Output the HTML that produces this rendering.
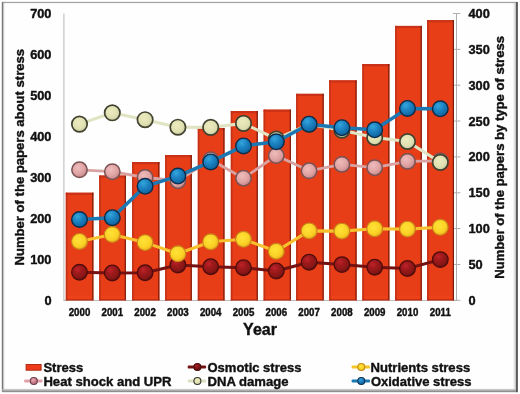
<!DOCTYPE html>
<html><head><meta charset="utf-8"><title>chart</title>
<style>
html,body{margin:0;padding:0;background:#fff;}
body{width:520px;height:394px;overflow:hidden;}
svg{display:block;will-change:transform;}
text{font-family:"Liberation Sans",sans-serif;font-weight:bold;fill:#111;stroke:#111;stroke-width:0.4px;stroke-linejoin:round;}
</style></head><body>
<svg width="520" height="394" viewBox="0 0 520 394">
<defs>
<linearGradient id="shR" x1="0" x2="1" y1="0" y2="0"><stop offset="0" stop-color="#fff" stop-opacity="0"/><stop offset="1" stop-color="#999" stop-opacity="0.7"/></linearGradient>
<linearGradient id="shB" x1="0" x2="0" y1="0" y2="1"><stop offset="0" stop-color="#fff" stop-opacity="0"/><stop offset="1" stop-color="#aaa" stop-opacity="0.6"/></linearGradient>
<linearGradient id="shL" x1="1" x2="0" y1="0" y2="0"><stop offset="0" stop-color="#fff" stop-opacity="0"/><stop offset="1" stop-color="#aaa" stop-opacity="0.6"/></linearGradient>
<radialGradient id="gOs" cx="0.38" cy="0.32" r="0.7"><stop offset="0" stop-color="#c0222a"/><stop offset="0.35" stop-color="#a01a1c"/><stop offset="0.75" stop-color="#8a1616"/><stop offset="1" stop-color="#641010"/></radialGradient>
<radialGradient id="gNu" cx="0.42" cy="0.4" r="0.68"><stop offset="0" stop-color="#ffe236"/><stop offset="0.6" stop-color="#fbd226"/><stop offset="0.85" stop-color="#efb61e"/><stop offset="1" stop-color="#d89a18"/></radialGradient>
<radialGradient id="gHs" cx="0.4" cy="0.35" r="0.7"><stop offset="0" stop-color="#efbcbc"/><stop offset="0.6" stop-color="#dfa2a2"/><stop offset="1" stop-color="#c08486"/></radialGradient>
<radialGradient id="gHsL" cx="0.4" cy="0.35" r="0.7"><stop offset="0" stop-color="#eab0b8"/><stop offset="0.6" stop-color="#c87888"/><stop offset="1" stop-color="#a86070"/></radialGradient>
<radialGradient id="gOsL" cx="0.38" cy="0.32" r="0.7"><stop offset="0" stop-color="#b02026"/><stop offset="0.4" stop-color="#8a1618"/><stop offset="1" stop-color="#5e0e0e"/></radialGradient>
<radialGradient id="gDn" cx="0.42" cy="0.38" r="0.7"><stop offset="0" stop-color="#ecebbd"/><stop offset="0.6" stop-color="#dfe0b2"/><stop offset="1" stop-color="#c4c69a"/></radialGradient>
<radialGradient id="gOx" cx="0.38" cy="0.3" r="0.75"><stop offset="0" stop-color="#34a6dc"/><stop offset="0.45" stop-color="#1c82c2"/><stop offset="1" stop-color="#0f5f98"/></radialGradient>
<linearGradient id="gBar" x1="0" x2="1" y1="0" y2="0"><stop offset="0" stop-color="#c03016"/><stop offset="0.05" stop-color="#c83418"/><stop offset="0.09" stop-color="#e84018"/><stop offset="0.94" stop-color="#e84018"/><stop offset="0.955" stop-color="#9c240e"/><stop offset="1" stop-color="#94200c"/></linearGradient>
</defs>
<rect x="0" y="0" width="520" height="394" fill="#fff"/>
<!-- frame -->
<rect x="2" y="2" width="516" height="390" fill="#fefefe"/>
<rect x="512" y="2" width="4" height="389" fill="url(#shR)"/>
<rect x="2" y="387.8" width="515" height="2" fill="url(#shB)"/>
<rect x="3.1" y="3" width="2.8" height="387" fill="url(#shL)"/>
<rect x="2" y="1.8" width="515" height="1.3" fill="#a4a4a4"/>
<rect x="1.8" y="2" width="1.4" height="389.5" fill="#767676"/>
<rect x="2" y="389.3" width="515" height="1.2" fill="#bcbcbc"/><rect x="2" y="390.4" width="515" height="1.8" fill="#8e8e8e"/>
<rect x="516" y="2" width="1.9" height="390.2" fill="#5a5a5a"/>

<rect x="63.4" y="13.5" width="1" height="286.8" fill="#b8b8b8"/>
<rect x="63.4" y="300.0" width="393.5" height="1" fill="#bcbcbc"/>
<rect x="456" y="13.5" width="0.9" height="286.8" fill="#a4a4a4"/>
<rect x="452.8" y="299.80" width="7.6" height="1" fill="#b0b0b0"/>
<rect x="452.8" y="263.95" width="7.6" height="1" fill="#b0b0b0"/>
<rect x="452.8" y="228.10" width="7.6" height="1" fill="#b0b0b0"/>
<rect x="452.8" y="192.25" width="7.6" height="1" fill="#b0b0b0"/>
<rect x="452.8" y="156.40" width="7.6" height="1" fill="#b0b0b0"/>
<rect x="452.8" y="120.55" width="7.6" height="1" fill="#b0b0b0"/>
<rect x="452.8" y="84.70" width="7.6" height="1" fill="#b0b0b0"/>
<rect x="452.8" y="48.85" width="7.6" height="1" fill="#b0b0b0"/>
<rect x="452.8" y="13.00" width="7.6" height="1" fill="#b0b0b0"/>
<rect x="65.80" y="192.70" width="27.60" height="107.60" fill="#e73e18"/>
<rect x="65.80" y="192.70" width="27.60" height="2.2" fill="#c42f16" opacity="0.85"/>
<rect x="65.80" y="192.70" width="1.6" height="107.60" fill="#c03016" opacity="0.9"/>
<rect x="92.20" y="192.70" width="1.2" height="107.60" fill="#7e1c0c"/>
<rect x="65.80" y="299.40" width="27.60" height="1" fill="#a8280f" opacity="0.9"/>
<rect x="67.80" y="295.30" width="24.10" height="3.5" fill="#ff4a20" opacity="0.3"/>
<rect x="99.20" y="175.50" width="26.70" height="124.80" fill="#e73e18"/>
<rect x="99.20" y="175.50" width="26.70" height="2.2" fill="#c42f16" opacity="0.85"/>
<rect x="99.20" y="175.50" width="1.6" height="124.80" fill="#c03016" opacity="0.9"/>
<rect x="124.70" y="175.50" width="1.2" height="124.80" fill="#7e1c0c"/>
<rect x="99.20" y="299.40" width="26.70" height="1" fill="#a8280f" opacity="0.9"/>
<rect x="101.20" y="295.30" width="23.20" height="3.5" fill="#ff4a20" opacity="0.3"/>
<rect x="132.10" y="162.00" width="27.30" height="138.30" fill="#e73e18"/>
<rect x="132.10" y="162.00" width="27.30" height="2.2" fill="#c42f16" opacity="0.85"/>
<rect x="132.10" y="162.00" width="1.6" height="138.30" fill="#c03016" opacity="0.9"/>
<rect x="158.20" y="162.00" width="1.2" height="138.30" fill="#7e1c0c"/>
<rect x="132.10" y="299.40" width="27.30" height="1" fill="#a8280f" opacity="0.9"/>
<rect x="134.10" y="295.30" width="23.80" height="3.5" fill="#ff4a20" opacity="0.3"/>
<rect x="165.10" y="155.00" width="26.70" height="145.30" fill="#e73e18"/>
<rect x="165.10" y="155.00" width="26.70" height="2.2" fill="#c42f16" opacity="0.85"/>
<rect x="165.10" y="155.00" width="1.6" height="145.30" fill="#c03016" opacity="0.9"/>
<rect x="190.60" y="155.00" width="1.2" height="145.30" fill="#7e1c0c"/>
<rect x="165.10" y="299.40" width="26.70" height="1" fill="#a8280f" opacity="0.9"/>
<rect x="167.10" y="295.30" width="23.20" height="3.5" fill="#ff4a20" opacity="0.3"/>
<rect x="197.80" y="128.00" width="26.70" height="172.30" fill="#e73e18"/>
<rect x="197.80" y="128.00" width="26.70" height="2.2" fill="#c42f16" opacity="0.85"/>
<rect x="197.80" y="128.00" width="1.6" height="172.30" fill="#c03016" opacity="0.9"/>
<rect x="223.30" y="128.00" width="1.2" height="172.30" fill="#7e1c0c"/>
<rect x="197.80" y="299.40" width="26.70" height="1" fill="#a8280f" opacity="0.9"/>
<rect x="199.80" y="295.30" width="23.20" height="3.5" fill="#ff4a20" opacity="0.3"/>
<rect x="230.80" y="111.00" width="27.00" height="189.30" fill="#e73e18"/>
<rect x="230.80" y="111.00" width="27.00" height="2.2" fill="#c42f16" opacity="0.85"/>
<rect x="230.80" y="111.00" width="1.6" height="189.30" fill="#c03016" opacity="0.9"/>
<rect x="256.60" y="111.00" width="1.2" height="189.30" fill="#7e1c0c"/>
<rect x="230.80" y="299.40" width="27.00" height="1" fill="#a8280f" opacity="0.9"/>
<rect x="232.80" y="295.30" width="23.50" height="3.5" fill="#ff4a20" opacity="0.3"/>
<rect x="263.60" y="109.60" width="27.30" height="190.70" fill="#e73e18"/>
<rect x="263.60" y="109.60" width="27.30" height="2.2" fill="#c42f16" opacity="0.85"/>
<rect x="263.60" y="109.60" width="1.6" height="190.70" fill="#c03016" opacity="0.9"/>
<rect x="289.70" y="109.60" width="1.2" height="190.70" fill="#7e1c0c"/>
<rect x="263.60" y="299.40" width="27.30" height="1" fill="#a8280f" opacity="0.9"/>
<rect x="265.60" y="295.30" width="23.80" height="3.5" fill="#ff4a20" opacity="0.3"/>
<rect x="296.10" y="93.80" width="27.60" height="206.50" fill="#e73e18"/>
<rect x="296.10" y="93.80" width="27.60" height="2.2" fill="#c42f16" opacity="0.85"/>
<rect x="296.10" y="93.80" width="1.6" height="206.50" fill="#c03016" opacity="0.9"/>
<rect x="322.50" y="93.80" width="1.2" height="206.50" fill="#7e1c0c"/>
<rect x="296.10" y="299.40" width="27.60" height="1" fill="#a8280f" opacity="0.9"/>
<rect x="298.10" y="295.30" width="24.10" height="3.5" fill="#ff4a20" opacity="0.3"/>
<rect x="329.20" y="80.30" width="27.40" height="220.00" fill="#e73e18"/>
<rect x="329.20" y="80.30" width="27.40" height="2.2" fill="#c42f16" opacity="0.85"/>
<rect x="329.20" y="80.30" width="1.6" height="220.00" fill="#c03016" opacity="0.9"/>
<rect x="355.40" y="80.30" width="1.2" height="220.00" fill="#7e1c0c"/>
<rect x="329.20" y="299.40" width="27.40" height="1" fill="#a8280f" opacity="0.9"/>
<rect x="331.20" y="295.30" width="23.90" height="3.5" fill="#ff4a20" opacity="0.3"/>
<rect x="362.30" y="64.00" width="27.10" height="236.30" fill="#e73e18"/>
<rect x="362.30" y="64.00" width="27.10" height="2.2" fill="#c42f16" opacity="0.85"/>
<rect x="362.30" y="64.00" width="1.6" height="236.30" fill="#c03016" opacity="0.9"/>
<rect x="388.20" y="64.00" width="1.2" height="236.30" fill="#7e1c0c"/>
<rect x="362.30" y="299.40" width="27.10" height="1" fill="#a8280f" opacity="0.9"/>
<rect x="364.30" y="295.30" width="23.60" height="3.5" fill="#ff4a20" opacity="0.3"/>
<rect x="395.10" y="25.90" width="26.70" height="274.40" fill="#e73e18"/>
<rect x="395.10" y="25.90" width="26.70" height="2.2" fill="#c42f16" opacity="0.85"/>
<rect x="395.10" y="25.90" width="1.6" height="274.40" fill="#c03016" opacity="0.9"/>
<rect x="420.60" y="25.90" width="1.2" height="274.40" fill="#7e1c0c"/>
<rect x="395.10" y="299.40" width="26.70" height="1" fill="#a8280f" opacity="0.9"/>
<rect x="397.10" y="295.30" width="23.20" height="3.5" fill="#ff4a20" opacity="0.3"/>
<rect x="427.10" y="20.10" width="26.90" height="280.20" fill="#e73e18"/>
<rect x="427.10" y="20.10" width="26.90" height="2.2" fill="#c42f16" opacity="0.85"/>
<rect x="427.10" y="20.10" width="1.6" height="280.20" fill="#c03016" opacity="0.9"/>
<rect x="452.80" y="20.10" width="1.2" height="280.20" fill="#7e1c0c"/>
<rect x="427.10" y="299.40" width="26.90" height="1" fill="#a8280f" opacity="0.9"/>
<rect x="429.10" y="295.30" width="23.40" height="3.5" fill="#ff4a20" opacity="0.3"/>
<polyline points="79.5,272.3 112.3,273.0 145.1,272.8 177.9,265.0 210.7,266.7 243.5,267.7 276.3,271.0 309.1,262.2 341.9,264.6 374.7,267.2 407.5,268.5 440.3,259.6" fill="none" stroke="#741212" stroke-width="3.0" stroke-linejoin="round"/>
<circle cx="79.5" cy="272.3" r="7.8" fill="url(#gOs)" stroke="#4e0c0c" stroke-width="1.3"/>
<circle cx="112.3" cy="273.0" r="7.8" fill="url(#gOs)" stroke="#4e0c0c" stroke-width="1.3"/>
<circle cx="145.1" cy="272.8" r="7.8" fill="url(#gOs)" stroke="#4e0c0c" stroke-width="1.3"/>
<circle cx="177.9" cy="265.0" r="7.8" fill="url(#gOs)" stroke="#4e0c0c" stroke-width="1.3"/>
<circle cx="210.7" cy="266.7" r="7.8" fill="url(#gOs)" stroke="#4e0c0c" stroke-width="1.3"/>
<circle cx="243.5" cy="267.7" r="7.8" fill="url(#gOs)" stroke="#4e0c0c" stroke-width="1.3"/>
<circle cx="276.3" cy="271.0" r="7.8" fill="url(#gOs)" stroke="#4e0c0c" stroke-width="1.3"/>
<circle cx="309.1" cy="262.2" r="7.8" fill="url(#gOs)" stroke="#4e0c0c" stroke-width="1.3"/>
<circle cx="341.9" cy="264.6" r="7.8" fill="url(#gOs)" stroke="#4e0c0c" stroke-width="1.3"/>
<circle cx="374.7" cy="267.2" r="7.8" fill="url(#gOs)" stroke="#4e0c0c" stroke-width="1.3"/>
<circle cx="407.5" cy="268.5" r="7.8" fill="url(#gOs)" stroke="#4e0c0c" stroke-width="1.3"/>
<circle cx="440.3" cy="259.6" r="7.8" fill="url(#gOs)" stroke="#4e0c0c" stroke-width="1.3"/>
<polyline points="79.5,241.4 112.3,234.5 145.1,242.6 177.9,253.8 210.7,241.8 243.5,239.3 276.3,251.3 309.1,230.9 341.9,231.1 374.7,228.8 407.5,229.1 440.3,227.3" fill="none" stroke="#f7c02c" stroke-width="3.1" stroke-linejoin="round"/>
<circle cx="79.5" cy="241.4" r="7.9" fill="url(#gNu)" stroke="#c8841a" stroke-width="1.1"/>
<circle cx="112.3" cy="234.5" r="7.9" fill="url(#gNu)" stroke="#c8841a" stroke-width="1.1"/>
<circle cx="145.1" cy="242.6" r="7.9" fill="url(#gNu)" stroke="#c8841a" stroke-width="1.1"/>
<circle cx="177.9" cy="253.8" r="7.9" fill="url(#gNu)" stroke="#c8841a" stroke-width="1.1"/>
<circle cx="210.7" cy="241.8" r="7.9" fill="url(#gNu)" stroke="#c8841a" stroke-width="1.1"/>
<circle cx="243.5" cy="239.3" r="7.9" fill="url(#gNu)" stroke="#c8841a" stroke-width="1.1"/>
<circle cx="276.3" cy="251.3" r="7.9" fill="url(#gNu)" stroke="#c8841a" stroke-width="1.1"/>
<circle cx="309.1" cy="230.9" r="7.9" fill="url(#gNu)" stroke="#c8841a" stroke-width="1.1"/>
<circle cx="341.9" cy="231.1" r="7.9" fill="url(#gNu)" stroke="#c8841a" stroke-width="1.1"/>
<circle cx="374.7" cy="228.8" r="7.9" fill="url(#gNu)" stroke="#c8841a" stroke-width="1.1"/>
<circle cx="407.5" cy="229.1" r="7.9" fill="url(#gNu)" stroke="#c8841a" stroke-width="1.1"/>
<circle cx="440.3" cy="227.3" r="7.9" fill="url(#gNu)" stroke="#c8841a" stroke-width="1.1"/>
<polyline points="79.5,169.8 112.3,171.7 145.1,177.5 177.9,180.7 210.7,159.7 243.5,178.2 276.3,155.6 309.1,170.8 341.9,164.4 374.7,167.7 407.5,161.4 440.3,160.9" fill="none" stroke="#d9a2a2" stroke-width="2.8" stroke-linejoin="round"/>
<circle cx="79.5" cy="169.8" r="7.7" fill="url(#gHs)" stroke="#7a5254" stroke-width="1.5"/>
<circle cx="112.3" cy="171.7" r="7.7" fill="url(#gHs)" stroke="#7a5254" stroke-width="1.5"/>
<circle cx="145.1" cy="177.5" r="7.7" fill="url(#gHs)" stroke="#7a5254" stroke-width="1.5"/>
<circle cx="177.9" cy="180.7" r="7.7" fill="url(#gHs)" stroke="#7a5254" stroke-width="1.5"/>
<circle cx="210.7" cy="159.7" r="7.7" fill="url(#gHs)" stroke="#7a5254" stroke-width="1.5"/>
<circle cx="243.5" cy="178.2" r="7.7" fill="url(#gHs)" stroke="#7a5254" stroke-width="1.5"/>
<circle cx="276.3" cy="155.6" r="7.7" fill="url(#gHs)" stroke="#7a5254" stroke-width="1.5"/>
<circle cx="309.1" cy="170.8" r="7.7" fill="url(#gHs)" stroke="#7a5254" stroke-width="1.5"/>
<circle cx="341.9" cy="164.4" r="7.7" fill="url(#gHs)" stroke="#7a5254" stroke-width="1.5"/>
<circle cx="374.7" cy="167.7" r="7.7" fill="url(#gHs)" stroke="#7a5254" stroke-width="1.5"/>
<circle cx="407.5" cy="161.4" r="7.7" fill="url(#gHs)" stroke="#7a5254" stroke-width="1.5"/>
<circle cx="440.3" cy="160.9" r="7.7" fill="url(#gHs)" stroke="#7a5254" stroke-width="1.5"/>
<polyline points="79.5,124.1 112.3,112.8 145.1,119.7 177.9,127.2 210.7,127.4 243.5,123.4 276.3,139.0 309.1,124.3 341.9,130.2 374.7,137.5 407.5,141.5 440.3,162.4" fill="none" stroke="#e1e4c2" stroke-width="3.1" stroke-linejoin="round"/>
<circle cx="79.5" cy="124.1" r="7.7" fill="url(#gDn)" stroke="#424230" stroke-width="1.7"/>
<circle cx="112.3" cy="112.8" r="7.7" fill="url(#gDn)" stroke="#424230" stroke-width="1.7"/>
<circle cx="145.1" cy="119.7" r="7.7" fill="url(#gDn)" stroke="#424230" stroke-width="1.7"/>
<circle cx="177.9" cy="127.2" r="7.7" fill="url(#gDn)" stroke="#424230" stroke-width="1.7"/>
<circle cx="210.7" cy="127.4" r="7.7" fill="url(#gDn)" stroke="#424230" stroke-width="1.7"/>
<circle cx="243.5" cy="123.4" r="7.7" fill="url(#gDn)" stroke="#424230" stroke-width="1.7"/>
<circle cx="276.3" cy="139.0" r="7.7" fill="url(#gDn)" stroke="#424230" stroke-width="1.7"/>
<circle cx="309.1" cy="124.3" r="7.7" fill="url(#gDn)" stroke="#424230" stroke-width="1.7"/>
<circle cx="341.9" cy="130.2" r="7.7" fill="url(#gDn)" stroke="#424230" stroke-width="1.7"/>
<circle cx="374.7" cy="137.5" r="7.7" fill="url(#gDn)" stroke="#424230" stroke-width="1.7"/>
<circle cx="407.5" cy="141.5" r="7.7" fill="url(#gDn)" stroke="#424230" stroke-width="1.7"/>
<circle cx="440.3" cy="162.4" r="7.7" fill="url(#gDn)" stroke="#424230" stroke-width="1.7"/>
<polyline points="79.5,219.5 112.3,217.7 145.1,186.3 177.9,176.1 210.7,161.9 243.5,145.9 276.3,141.8 309.1,124.2 341.9,127.7 374.7,129.8 407.5,108.4 440.3,108.8" fill="none" stroke="#1b78b2" stroke-width="3.5" stroke-linejoin="round"/>
<circle cx="79.5" cy="219.5" r="7.8" fill="url(#gOx)" stroke="#0c2c4a" stroke-width="1.4"/>
<circle cx="112.3" cy="217.7" r="7.8" fill="url(#gOx)" stroke="#0c2c4a" stroke-width="1.4"/>
<circle cx="145.1" cy="186.3" r="7.8" fill="url(#gOx)" stroke="#0c2c4a" stroke-width="1.4"/>
<circle cx="177.9" cy="176.1" r="7.8" fill="url(#gOx)" stroke="#0c2c4a" stroke-width="1.4"/>
<circle cx="210.7" cy="161.9" r="7.8" fill="url(#gOx)" stroke="#0c2c4a" stroke-width="1.4"/>
<circle cx="243.5" cy="145.9" r="7.8" fill="url(#gOx)" stroke="#0c2c4a" stroke-width="1.4"/>
<circle cx="276.3" cy="141.8" r="7.8" fill="url(#gOx)" stroke="#0c2c4a" stroke-width="1.4"/>
<circle cx="309.1" cy="124.2" r="7.8" fill="url(#gOx)" stroke="#0c2c4a" stroke-width="1.4"/>
<circle cx="341.9" cy="127.7" r="7.8" fill="url(#gOx)" stroke="#0c2c4a" stroke-width="1.4"/>
<circle cx="374.7" cy="129.8" r="7.8" fill="url(#gOx)" stroke="#0c2c4a" stroke-width="1.4"/>
<circle cx="407.5" cy="108.4" r="7.8" fill="url(#gOx)" stroke="#0c2c4a" stroke-width="1.4"/>
<circle cx="440.3" cy="108.8" r="7.8" fill="url(#gOx)" stroke="#0c2c4a" stroke-width="1.4"/>
<text x="51.5" y="304.7" font-size="12.8" text-anchor="end">0</text>
<text x="51.5" y="263.7" font-size="12.8" text-anchor="end">100</text>
<text x="51.5" y="222.7" font-size="12.8" text-anchor="end">200</text>
<text x="51.5" y="181.7" font-size="12.8" text-anchor="end">300</text>
<text x="51.5" y="140.7" font-size="12.8" text-anchor="end">400</text>
<text x="51.5" y="99.7" font-size="12.8" text-anchor="end">500</text>
<text x="51.5" y="58.7" font-size="12.8" text-anchor="end">600</text>
<text x="51.5" y="17.7" font-size="12.8" text-anchor="end">700</text>
<text x="468.5" y="304.7" font-size="12.8">0</text>
<text x="468.5" y="268.8" font-size="12.8">50</text>
<text x="468.5" y="233.0" font-size="12.8">100</text>
<text x="468.5" y="197.2" font-size="12.8">150</text>
<text x="468.5" y="161.3" font-size="12.8">200</text>
<text x="468.5" y="125.5" font-size="12.8">250</text>
<text x="468.5" y="89.6" font-size="12.8">300</text>
<text x="468.5" y="53.7" font-size="12.8">350</text>
<text x="468.5" y="17.9" font-size="12.8">400</text>
<text transform="translate(79.5,316.0) scale(1,1.1)" font-size="9.7" text-anchor="middle">2000</text>
<text transform="translate(112.3,316.0) scale(1,1.1)" font-size="9.7" text-anchor="middle">2001</text>
<text transform="translate(145.1,316.0) scale(1,1.1)" font-size="9.7" text-anchor="middle">2002</text>
<text transform="translate(177.9,316.0) scale(1,1.1)" font-size="9.7" text-anchor="middle">2003</text>
<text transform="translate(210.7,316.0) scale(1,1.1)" font-size="9.7" text-anchor="middle">2004</text>
<text transform="translate(243.5,316.0) scale(1,1.1)" font-size="9.7" text-anchor="middle">2005</text>
<text transform="translate(276.3,316.0) scale(1,1.1)" font-size="9.7" text-anchor="middle">2006</text>
<text transform="translate(309.1,316.0) scale(1,1.1)" font-size="9.7" text-anchor="middle">2007</text>
<text transform="translate(341.9,316.0) scale(1,1.1)" font-size="9.7" text-anchor="middle">2008</text>
<text transform="translate(374.7,316.0) scale(1,1.1)" font-size="9.7" text-anchor="middle">2009</text>
<text transform="translate(407.5,316.0) scale(1,1.1)" font-size="9.7" text-anchor="middle">2010</text>
<text transform="translate(440.3,316.0) scale(1,1.1)" font-size="9.7" text-anchor="middle">2011</text>
<text x="260" y="335" font-size="16" text-anchor="middle">Year</text>
<text transform="translate(24.25,157.2) rotate(-90)" font-size="13.08" text-anchor="middle">Number of the papers about stress</text>
<text transform="translate(504.3,157.35) rotate(-90)" font-size="13.08" text-anchor="middle">Number of the papers by type of stress</text>
<rect x="26.1" y="364.5" width="15" height="5.7" fill="#ee3a18" stroke="#b02c18" stroke-width="1"/>
<text x="43.4" y="371.8" font-size="13">Stress</text>
<rect x="24.1" y="379.5" width="18.4" height="3" rx="1" fill="#e0a2a8"/>
<circle cx="33.8" cy="381.0" r="3.5" fill="url(#gHsL)" stroke="#6c4248" stroke-width="1.1"/>
<text x="43.4" y="385.5" font-size="13.10">Heat shock and UPR</text>
<rect x="187.7" y="365.5" width="18.4" height="3" rx="1" fill="#741212"/>
<circle cx="197.4" cy="367.0" r="3.5" fill="url(#gOsL)" stroke="#4a0c0c" stroke-width="1.1"/>
<text x="207.5" y="371.5" font-size="13.00">Osmotic stress</text>
<rect x="187.7" y="379.5" width="18.4" height="3" rx="1" fill="#dcdfc0"/>
<circle cx="197.4" cy="381.0" r="3.5" fill="url(#gDn)" stroke="#34342a" stroke-width="1.1"/>
<text x="207.5" y="385.5" font-size="13.10">DNA damage</text>
<rect x="351.6" y="365.5" width="18.4" height="3" rx="1" fill="#f5c528"/>
<circle cx="361.3" cy="367.0" r="3.5" fill="url(#gNu)" stroke="#c08c16" stroke-width="1.1"/>
<text x="370.5" y="371.5" font-size="13.10">Nutrients stress</text>
<rect x="351.6" y="379.5" width="18.4" height="3" rx="1" fill="#1b78b2"/>
<circle cx="361.3" cy="381.0" r="3.5" fill="url(#gOx)" stroke="#0e3454" stroke-width="1.1"/>
<text x="370.9" y="385.5" font-size="13.02">Oxidative stress</text>
</svg></body></html>
